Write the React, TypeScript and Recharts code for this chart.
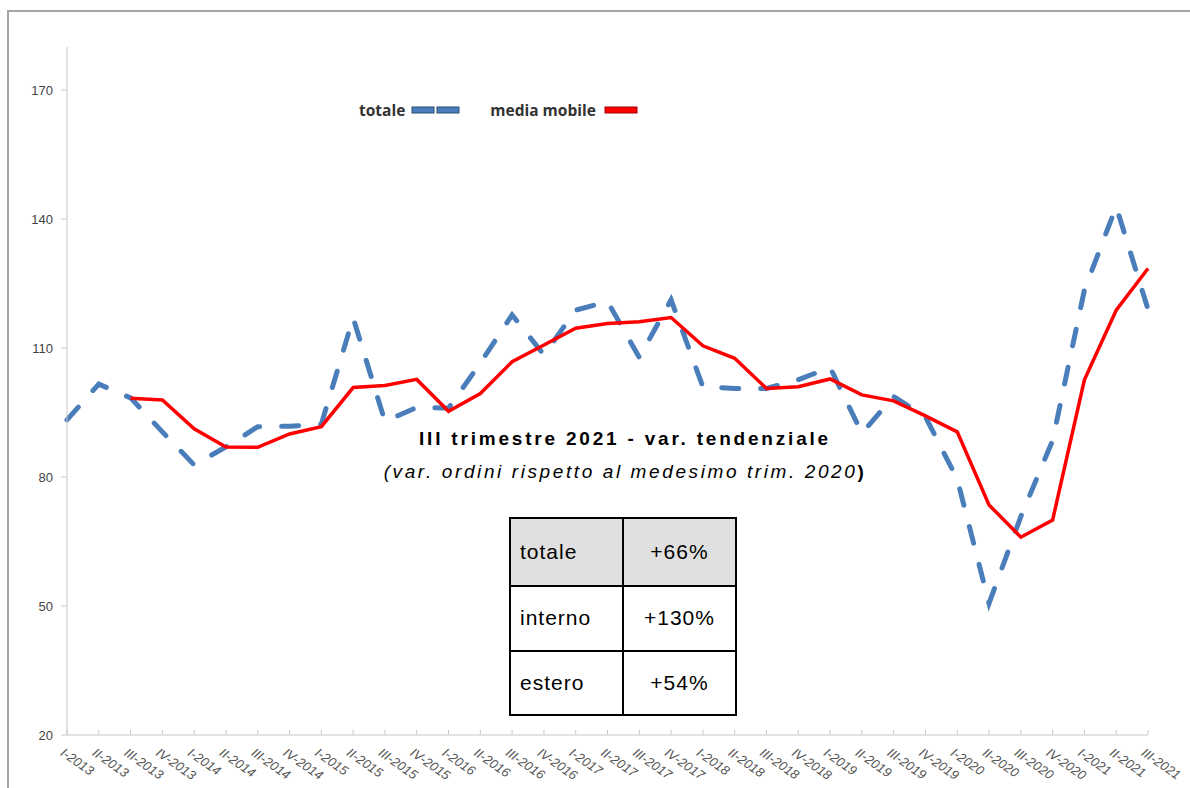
import { LineChart, Line, XAxis, YAxis, Legend } from 'recharts'

const quarters = [
  'I-2013', 'II-2013', 'III-2013', 'IV-2013',
  'I-2014', 'II-2014', 'III-2014', 'IV-2014',
  'I-2015', 'II-2015', 'III-2015', 'IV-2015',
  'I-2016', 'II-2016', 'III-2016', 'IV-2016',
  'I-2017', 'II-2017', 'III-2017', 'IV-2017',
  'I-2018', 'II-2018', 'III-2018', 'IV-2018',
  'I-2019', 'II-2019', 'III-2019', 'IV-2019',
  'I-2020', 'II-2020', 'III-2020', 'IV-2020',
  'I-2021', 'II-2021', 'III-2021',
]

const totale = [
  93.3, 101.6, 98.4, 90.5,
  82.8, 87.0, 91.7, 91.8,
  92.3, 117.0, 92.9, 96.2,
  96.0, 106.5, 117.7, 108.4,
  118.8, 120.8, 107.8, 121.2,
  101.0, 100.6, 100.6, 102.6,
  105.5, 90.2, 98.7, 94.0,
  79.5, 50.6, 70.8, 88.5,
  123.5, 142.9, 119.0,
]

const mediaMobile = [
  null, null, 98.3, 97.9,
  91.2, 87.0, 86.9, 90.0,
  91.7, 100.8, 101.3, 102.7,
  95.3, 99.4, 106.8, 110.7,
  114.6, 115.7, 116.1, 117.1,
  110.5, 107.6, 100.6, 101.0,
  102.8, 99.1, 97.7, 94.2,
  90.5, 73.5, 66.0, 70.0,
  102.6, 118.8, 128.5,
]

const yTicks = [20, 50, 80, 110, 140, 170]

const tableRows = [
  { label: 'totale', value: '+66%' },
  { label: 'interno', value: '+130%' },
  { label: 'estero', value: '+54%' },
]

const data = quarters.map((q, i) => ({ q, totale: totale[i], media: mediaMobile[i] }))

const BLUE = '#4a7ebb'
const RED = '#ff0000'
const SANS = "'Liberation Sans', Arial, sans-serif"

const XTick = ({ x, y, payload }: any) => (
  <g transform={`translate(${x - 2},${y + 5})`}>
    <text
      x={0}
      y={0}
      dy="0.72em"
      transform="rotate(35)"
      textAnchor="start"
      fontSize={13}
      fontStyle="italic"
      fontFamily={SANS}
      fill="#555"
    >
      {payload.value}
    </text>
  </g>
)

function ChartLegend() {
  const txt = { fontFamily: "'Open Sans', sans-serif", fontWeight: 700, fontSize: 15.5, color: '#333' }
  return (
    <div style={{ display: 'flex', alignItems: 'center' }}>
      <span style={txt}>totale</span>
      <svg width={50} height={10} style={{ marginLeft: 6 }}>
        <rect x={1} y={2} width={22} height={6} fill={BLUE} stroke="#2c4d75" strokeWidth={1} />
        <rect x={26} y={2} width={22} height={6} fill={BLUE} stroke="#2c4d75" strokeWidth={1} />
      </svg>
      <span style={{ ...txt, marginLeft: 29 }}>media mobile</span>
      <svg width={36} height={10} style={{ marginLeft: 8 }}>
        <rect x={1} y={2} width={32} height={6} fill={RED} stroke="#a00000" strokeWidth={1} />
      </svg>
    </div>
  )
}

export default function App() {
  return (
    <div style={{ position: 'absolute', left: 0, top: 0, width: 1190, height: 788, overflow: 'hidden', background: '#fff' }}>
      {/* cornice del grafico */}
      <div style={{ position: 'absolute', left: 7, top: 10, width: 1300, height: 900, border: '2px solid #a6a6a6' }} />

      <div style={{ position: 'absolute', left: 0, top: 0 }}>
        <LineChart width={1190} height={788} data={data} margin={{ top: 47, right: 42, bottom: 0, left: 0 }}>
          <XAxis
            dataKey="q"
            interval={0}
            height={53}
            tick={<XTick />}
            tickSize={-5}
            tickMargin={12}
            stroke="#c8c8c8"
          />
          <YAxis
            domain={[20, 180]}
            ticks={yTicks}
            width={67}
            tickSize={6}
            tickMargin={8}
            stroke="#c8c8c8"
            tick={{ fontSize: 13, fill: '#444', fontFamily: SANS }}
          />
          <Legend
            layout="horizontal"
            align="center"
            verticalAlign="middle"
            content={<ChartLegend />}
            wrapperStyle={{ top: 99, left: 359, width: 'auto' }}
          />
          <Line
            dataKey="totale"
            stroke={BLUE}
            strokeWidth={5}
            strokeDasharray="17 22"
            strokeLinecap="round"
            dot={false}
            isAnimationActive={false}
          />
          <Line
            dataKey="media"
            stroke={RED}
            strokeWidth={3.5}
            dot={false}
            connectNulls={false}
            isAnimationActive={false}
          />
        </LineChart>
      </div>

      <div
        style={{
          position: 'absolute', left: 370, width: 510, top: 428, textAlign: 'center',
          fontFamily: SANS, fontWeight: 700, fontSize: 19,
          letterSpacing: 2.8, color: '#000', whiteSpace: 'nowrap',
        }}
      >
        III trimestre 2021 - var. tendenziale
      </div>
      <div
        style={{
          position: 'absolute', left: 360, width: 530, top: 461, textAlign: 'center',
          fontFamily: SANS, fontStyle: 'italic', fontSize: 19,
          letterSpacing: 2.6, color: '#000', whiteSpace: 'nowrap',
        }}
      >
        (var. ordini rispetto al medesimo trim. 2020<span style={{ fontWeight: 700, fontStyle: 'normal' }}>)</span>
      </div>

      <div
        style={{
          position: 'absolute', left: 509, top: 517, width: 228, border: '2px solid #000',
          boxSizing: 'border-box', fontFamily: SANS, fontSize: 21,
          letterSpacing: 1, color: '#000',
        }}
      >
        {tableRows.map((r, i) => (
          <div
            key={r.label}
            style={{
              display: 'flex', height: i === 2 ? 64 : 65.5, background: i === 0 ? '#e0e0e0' : '#fff',
              borderTop: i === 0 ? 'none' : '2px solid #000', boxSizing: 'border-box',
            }}
          >
            <div
              style={{
                width: 113, boxSizing: 'border-box', borderRight: '2px solid #000',
                display: 'flex', alignItems: 'center', paddingLeft: 9,
              }}
            >
              {r.label}
            </div>
            <div style={{ flex: 1, display: 'flex', alignItems: 'center', justifyContent: 'center' }}>{r.value}</div>
          </div>
        ))}
      </div>
    </div>
  )
}
